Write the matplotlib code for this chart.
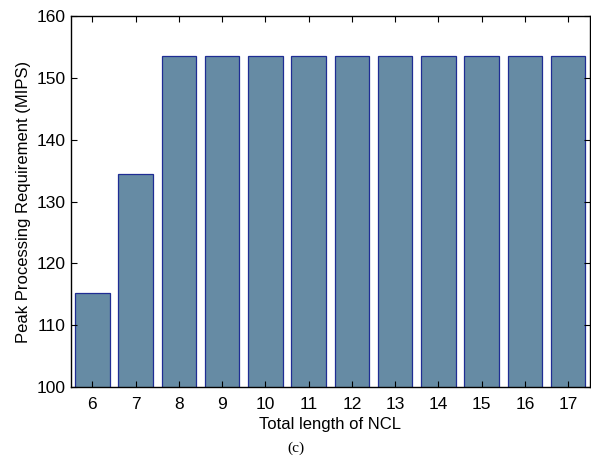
import matplotlib
matplotlib.use('Agg')
import matplotlib.pyplot as plt

plt.rcParams['font.family'] = ['Liberation Sans', 'DejaVu Sans']

ncl_length = [6, 7, 8, 9, 10, 11, 12, 13, 14, 15, 16, 17]
peak_mips = [115.2, 134.4, 153.5, 153.5, 153.5, 153.5, 153.5, 153.5, 153.5, 153.5, 153.5, 153.5]

fig = plt.figure(figsize=(5.91, 4.72), dpi=100)
ax = fig.add_axes([0.1196, 0.180, 0.8784, 0.786])

ax.bar(ncl_length, peak_mips, width=0.8, bottom=0, color='#668ba4',
       edgecolor='#1f2d94', linewidth=0.9)

ax.set_xlim(5.5, 17.5)
ax.set_ylim(100, 160)
ax.set_xticks(ncl_length)
ax.set_yticks(range(100, 161, 10))
ax.tick_params(direction='in', top=True, right=True, labelsize=12.5, length=4)
ax.tick_params(axis='x', pad=7)
for s in ax.spines.values():
    s.set_linewidth(1.0)

ax.set_xlabel('Total length of NCL', fontsize=12, labelpad=4)
ax.set_ylabel('Peak Processing Requirement (MIPS)', fontsize=12)

fig.text(0.5, 0.051, '(c)', ha='center', va='center', fontsize=11,
         family=['Liberation Serif', 'DejaVu Serif'])

fig.savefig('out.png', dpi=100)
